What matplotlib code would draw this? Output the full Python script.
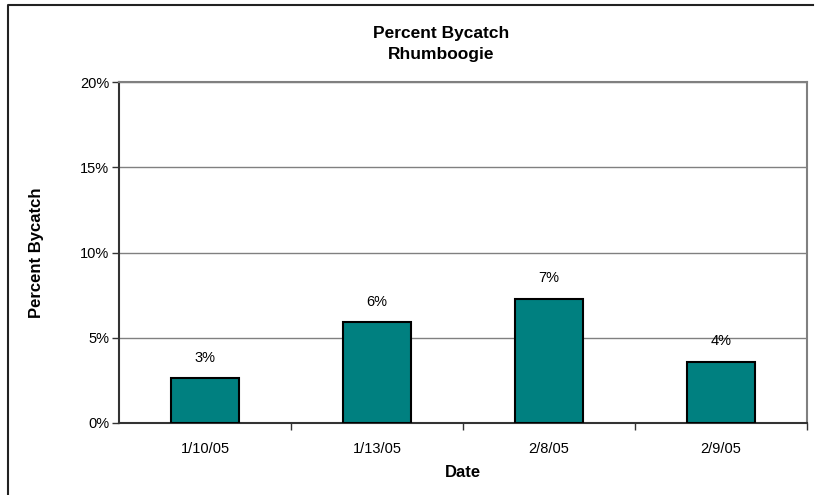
import matplotlib.pyplot as plt
from matplotlib.lines import Line2D
from matplotlib.ticker import FixedLocator, NullFormatter

plt.rcParams['font.family'] = ['Liberation Sans', 'DejaVu Sans']

dates = ['1/10/05', '1/13/05', '2/8/05', '2/9/05']
bycatch = [2.65, 5.9, 7.3, 3.6]
labels = ['3%', '6%', '7%', '4%']
yticks = [0, 5, 10, 15, 20]
ytick_labels = ['0%', '5%', '10%', '15%', '20%']

W, H = 817, 495
fig = plt.figure(figsize=(W / 100, H / 100), dpi=100)
ax = fig.add_axes([119 / W, 1 - 423 / H, (807 - 119) / W, (423 - 82) / H])

x = range(len(dates))
ax.bar(x, bycatch, width=0.4, color='#008080', edgecolor='black', linewidth=1.5, zorder=3)
for xi, v, lab in zip(x, bycatch, labels):
    ax.annotate(lab, (xi, v), xytext=(0, 14.5), textcoords='offset points',
                ha='center', va='center', fontsize=10.5)

ax.set_xlim(-0.5, len(dates) - 0.5)
ax.set_ylim(0, 20)
ax.set_yticks(yticks)
ax.set_yticklabels(ytick_labels, fontsize=10.5)
ax.set_xticks(list(x))
ax.set_xticklabels(dates, fontsize=10.5)
ax.tick_params(axis='x', length=0, pad=14)
ax.xaxis.set_minor_locator(FixedLocator([0.5, 1.5, 2.5, 3.5]))
ax.xaxis.set_minor_formatter(NullFormatter())
ax.tick_params(axis='x', which='minor', length=5, width=1, color='#333333')
ax.tick_params(axis='y', length=5, width=1, color='#333333', pad=2)
ax.grid(axis='y', color='#808080', linewidth=1, zorder=0)

ax.spines['left'].set_color('#333333')
ax.spines['left'].set_linewidth(1.5)
ax.spines['bottom'].set_color('#333333')
ax.spines['bottom'].set_linewidth(1.5)
ax.spines['right'].set_color('#808080')
ax.spines['right'].set_linewidth(1.5)
ax.spines['top'].set_color('#808080')
ax.spines['top'].set_linewidth(1.5)

ax.set_xlabel('Date', fontsize=12, fontweight='bold', labelpad=6)
ax.set_ylabel('Percent Bycatch', fontsize=12, fontweight='bold', labelpad=26)

fig.text(441 / W, 1 - 44 / H, 'Percent Bycatch\nRhumboogie', ha='center', va='center',
         fontsize=12.5, fontweight='bold', linespacing=1.45)

# outer chart border: only top and left edges are visible
fig.lines.append(Line2D([8 / W, 8 / W, 813 / W], [0, 1 - 5 / H, 1 - 5 / H],
                        transform=fig.transFigure, color='#222222', linewidth=1.5))

fig.savefig('out.png', dpi=100)
